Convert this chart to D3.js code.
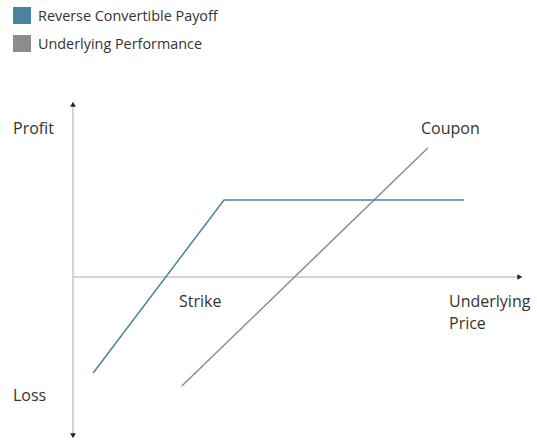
<!DOCTYPE html>
<html><head><meta charset="utf-8">
<script src="https://cdn.jsdelivr.net/npm/d3@7"></script>
<style>body{margin:0;background:#fff;}text{font-family:"Open Sans",sans-serif;fill:#333;}</style>
</head><body><svg id="c" width="537" height="441"></svg>
<script>
const legendLabels = ["Reverse Convertible Payoff", "Underlying Performance"];
const seriesColors = ["#4a83a0", "#8c8c8c"];
const payoffX = [4.5, 33.7, 87.3];
const payoffY = [-48, 38.5, 38.5];
const underlyingX = [24.3, 79.2];
const underlyingY = [-54.5, 64.5];
const axisLabels = {profit:"Profit", loss:"Loss", strike:"Strike", coupon:"Coupon", xTitle:["Underlying","Price"]};

const svg = d3.select("#c");
const x = d3.scaleLinear().domain([0,100]).range([73,521]);
const y = d3.scaleLinear().domain([-80,87]).range([437,103]);

// legend
legendLabels.forEach((l,i)=>{
  const g = svg.append("g").attr("transform",`translate(13,${7+i*28})`);
  g.append("rect").attr("width",18).attr("height",17).attr("fill",seriesColors[i]);
  g.append("text").attr("x",25).attr("y",14).attr("font-size",14.4).text(l);
});

// axes
svg.append("line").attr("x1",x(0)).attr("x2",x(0)).attr("y1",y(87)+3).attr("y2",y(-80)-3).attr("stroke","#aaa").attr("stroke-width",1);
svg.append("line").attr("x1",x(0)).attr("x2",x(100)-3).attr("y1",y(0)).attr("y2",y(0)).attr("stroke","#aaa").attr("stroke-width",1);
const tri = d3.symbol().type(d3.symbolTriangle).size(14);
svg.append("path").attr("d",tri).attr("transform",`translate(${x(0)},${y(87)+2})`).attr("fill","#222");
svg.append("path").attr("d",tri).attr("transform",`translate(${x(0)},${y(-80)-2}) rotate(180)`).attr("fill","#222");
svg.append("path").attr("d",tri).attr("transform",`translate(${x(100)-2},${y(0)}) rotate(90)`).attr("fill","#222");

const line = d3.line().x(d=>x(d[0])).y(d=>y(d[1]));
svg.append("path").attr("d",line(underlyingX.map((v,i)=>[v,underlyingY[i]]))).attr("fill","none").attr("stroke",seriesColors[1]).attr("stroke-width",1.5);
svg.append("path").attr("d",line(payoffX.map((v,i)=>[v,payoffY[i]]))).attr("fill","none").attr("stroke",seriesColors[0]).attr("stroke-width",1.5);

const fs = 16;
svg.append("text").attr("x",13).attr("y",134).attr("font-size",fs).text(axisLabels.profit);
svg.append("text").attr("x",13).attr("y",401).attr("font-size",fs).text(axisLabels.loss);
svg.append("text").attr("x",179).attr("y",307).attr("font-size",fs).text(axisLabels.strike);
svg.append("text").attr("x",421).attr("y",134).attr("font-size",fs).text(axisLabels.coupon);
axisLabels.xTitle.forEach((t,i)=>svg.append("text").attr("x",449).attr("y",307+i*22).attr("font-size",fs).text(t));
</script></body></html>
